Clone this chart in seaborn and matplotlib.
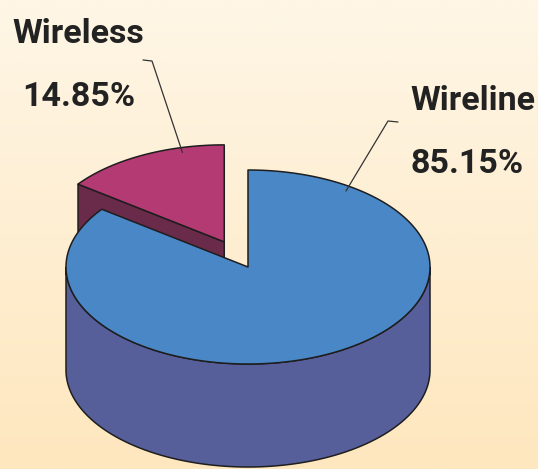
import numpy as np
import matplotlib
matplotlib.use("Agg")
import matplotlib.pyplot as plt
from matplotlib.patches import Polygon
import seaborn as sns

# chart data (counter-clockwise from 12 o'clock)
labels = ["Wireless", "Wireline"]
shares = [14.85, 85.15]

# styling
top_colors = ["#b43a73", "#4a87c7"]
side_colors = ["#6a2b4b", "#575f9b"]
explode = [0.29, 0.0]
leader_angle = [104, 55.5]
label_pos = [(12, 43), (410, 110)]   # baseline of first line, pixels
line_gap = 63

sns.set_theme(style="white")
plt.rcParams['font.family'] = ['Roboto', 'DejaVu Sans']

W, H = 538, 469
fig = plt.figure(figsize=(W / 100, H / 100), dpi=100)
ax = fig.add_axes([0, 0, 1, 1])
ax.set_xlim(0, W)
ax.set_ylim(H, 0)
ax.axis('off')

# warm vertical gradient background
g = np.linspace(0, 1, 256)[:, None, None]
c_top = np.array([254, 246, 230]) / 255
c_bot = np.array([254, 231, 190]) / 255
ax.imshow(c_top + (c_bot - c_top) * g, extent=[0, W, H, 0], aspect='auto', zorder=0)

# pseudo 3d pie geometry (pixels)
cx, cy = 248, 267
rx, ry = 182, 97
depth = 103
edge = dict(edgecolor="#1e1e1e", linewidth=1.1, joinstyle="round")


def rim(c, theta, dz=0.0):
    t = np.radians(theta)
    return np.column_stack([c[0] + rx * np.cos(t), c[1] - ry * np.sin(t) + dz])


def arc(c, t1, t2, dz=0.0):
    n = max(int(abs(t2 - t1)), 2)
    return rim(c, np.linspace(t1, t2, n), dz)


total = sum(shares)
start = 90.0
for i, (lab, val) in enumerate(zip(labels, shares)):
    sweep = 360.0 * val / total
    t1, t2 = start, start + sweep
    start = t2
    mid = np.radians((t1 + t2) / 2)
    c = (cx + explode[i] * rx * np.cos(mid), cy - explode[i] * ry * np.sin(mid))
    z = i + 1

    # radial walls facing the viewer
    for t, vis in ((t1, np.cos(np.radians(t1)) > 1e-6), (t2, np.cos(np.radians(t2)) < -1e-6)):
        if vis:
            p = rim(c, [t])[0]
            wall = [c, p, (p[0], p[1] + depth), (c[0], c[1] + depth)]
            ax.add_patch(Polygon(wall, closed=True, facecolor=side_colors[i], zorder=z, **edge))

    # front curved side
    for lo, hi in ((180, 360), (540, 720)):
        a, b = max(t1, lo), min(t2, hi)
        if b > a:
            up = arc(c, a, b)
            down = arc(c, b, a, depth)
            ax.add_patch(Polygon(np.vstack([up, down]), closed=True,
                                 facecolor=side_colors[i], zorder=z, **edge))

    # top face
    top = np.vstack([[c], arc(c, t1, t2)])
    ax.add_patch(Polygon(top, closed=True, facecolor=top_colors[i], zorder=z + 0.5, **edge))

    # leader line and label
    lx, ly = label_pos[i]
    end = rim(c, [leader_angle[i]])[0]
    end = (c[0] + (end[0] - c[0]) * 0.95, c[1] + (end[1] - c[1]) * 0.95)
    if i == 0:
        knee = (lx + 140, ly + 18)
        tip = (knee[0] - 9, knee[1] - 1)
    else:
        knee = (lx - 22, ly + 11)
        tip = (knee[0] + 10, knee[1] + 1)
    ax.plot([tip[0], knee[0], end[0]], [tip[1], knee[1], end[1]],
            color="#333333", lw=0.9, zorder=5)
    ax.text(lx, ly, lab, fontsize=24.5, fontweight='bold', color="#222222",
            ha='left', va='baseline', zorder=6)
    ax.text(lx + (10 if i == 0 else 0), ly + line_gap,
            f"{val:.2f}%", fontsize=24.5, fontweight='bold', color="#222222",
            ha='left', va='baseline', zorder=6)

fig.savefig("out.png", dpi=100)
